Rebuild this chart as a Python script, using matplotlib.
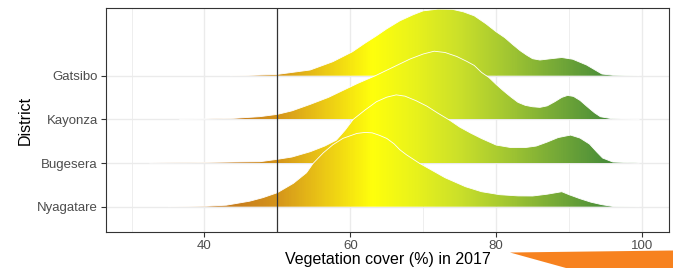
import numpy as np
import matplotlib.pyplot as plt
from matplotlib.colors import LinearSegmentedColormap, Normalize
from matplotlib.patches import Polygon

plt.rcParams['font.family'] = ['Liberation Sans', 'DejaVu Sans']

# districts, bottom to top
districts = ['Nyagatare', 'Bugesera', 'Kayonza', 'Gatsibo']

# density curves (relative heights)
gatsibo_x = [43.5, 46, 50, 54.5, 57.6, 60.3, 62, 63.6, 65, 66.8, 68.6, 70, 72, 74, 75.5, 77,
             78.6, 80, 81.2, 82.3, 83.3, 84.2, 85, 86, 87.5, 89, 90.5, 92.4, 93.5, 94.5, 96, 99.6]
gatsibo_h = [0, 0.3, 1.3, 5.7, 14, 24, 32.5, 40, 47, 55, 61, 65, 66.7, 66.5, 64, 60,
             52, 44, 38, 31, 25, 20.5, 17, 15.7, 17, 18.2, 16.5, 10.7, 6, 1.7, 0.5, 0]

kayonza_x = [36.6, 40, 44, 47.6, 50, 52, 54.5, 57, 59, 61, 63.4, 65.5, 68.2, 70, 71.5, 73, 74.6,
             76, 77, 78, 79, 80, 81, 82, 83, 84, 85, 86, 87, 88, 89, 89.8, 90.6, 91.5, 92.5,
             93.5, 94.3, 96, 99.6]
kayonza_h = [0, 0.3, 1, 2.7, 5, 8.5, 15, 22, 29, 36, 43.6, 51, 60.5, 65.5, 68.3, 67, 63,
             58, 54, 47, 42, 35, 28.5, 22.5, 17, 14, 12.6, 12, 13.5, 17.5, 22, 24, 23, 19, 12.6,
             6.5, 2.6, 0.5, 0]

bugesera_x = [32.5, 38, 44, 47.6, 50, 52, 54.5, 56.5, 58.1, 59.3, 60.4, 62, 63.6, 65, 66.3, 67.5,
              69, 70.5, 72, 73.6, 75, 76.5, 78, 80, 82, 84, 85.5, 87, 88.5, 90.2, 91.5, 92.8,
              93.8, 94.6, 96, 99.6]
bugesera_h = [0, 0.3, 1, 1.3, 3.7, 6, 11.3, 17, 23, 33, 43.7, 53, 61.5, 66, 68.3, 67,
              62.5, 57, 50, 43, 36, 30, 24.5, 18, 15.5, 15.5, 17, 21, 25.5, 28, 25, 19,
              11, 5, 1, 0]

nyagatare_x = [35, 40.3, 43, 46.2, 48, 50, 52.2, 54, 54.9, 56.3, 57.6, 59, 60.9, 62, 63, 64, 65,
               66, 66.8, 67.7, 69.5, 71.3, 73, 75.8, 78, 80.5, 83, 85, 87, 89, 90, 91.5, 93,
               94.5, 96, 99.6]
nyagatare_h = [0, 0.5, 1.5, 5.5, 9, 14, 23.4, 34, 43.4, 54, 62, 68.5, 73.4, 74.4, 74, 71.5, 68.4,
               63, 57, 52, 43.4, 36, 29, 20, 15, 12, 10.8, 10.7, 12.5, 15, 12, 8, 4.5,
               2, 0.3, 0]

curves = {
    'Gatsibo': (gatsibo_x, gatsibo_h),
    'Kayonza': (kayonza_x, kayonza_h),
    'Bugesera': (bugesera_x, bugesera_h),
    'Nyagatare': (nyagatare_x, nyagatare_h),
}

threshold = 50
ridge_scale = 1.70   # tallest ridge in units of row spacing

# fill gradient along x
stops = [(26.5, '#b8681e'), (45, '#c9801e'), (50, '#d5951b'), (56, '#eac516'),
         (63, '#ffff0c'), (69, '#e8f21c'), (75, '#cbe02a'), (81, '#a6c931'),
         (88, '#78ab37'), (95, '#4b8e39'), (103.7, '#43883a')]
xmin, xmax = 26.5, 103.7
cmap = LinearSegmentedColormap.from_list(
    'veg', [((v - xmin) / (xmax - xmin), c) for v, c in stops])
norm = Normalize(xmin, xmax)

fig = plt.figure(figsize=(6.73, 2.68), dpi=100)
ax = fig.add_axes([106 / 673, 36 / 268, 563 / 673, 224 / 268])

hmax = max(max(h) for _, h in curves.values())
grad = np.linspace(xmin, xmax, 600).reshape(1, -1)

# draw from top row down so lower ridges overlap upper ones
for i, name in enumerate(reversed(districts)):
    base = districts.index(name) + 1
    x, h = curves[name]
    x = np.array(x)
    y = base + np.array(h) / hmax * ridge_scale
    z = 2 + i
    verts = np.column_stack([np.r_[x, x[::-1]], np.r_[y, np.full(len(x), base)]])
    poly = Polygon(verts, closed=True, facecolor='none', edgecolor='none')
    ax.add_patch(poly)
    im = ax.imshow(grad, extent=[xmin, xmax, base, base + ridge_scale + 0.1],
                   aspect='auto', cmap=cmap, norm=norm, origin='lower',
                   interpolation='bilinear', zorder=z)
    im.set_clip_path(poly)
    ax.plot(x, y, color='white', lw=0.6, zorder=z + 0.5)

ax.axvline(threshold, color='#333333', lw=0.9, zorder=20)

ax.set_xlim(xmin, xmax)
ax.set_ylim(0.42, 5.55)
ax.set_xticks([40, 60, 80, 100])
ax.set_xticks([30, 50, 70, 90], minor=True)
ax.set_yticks(range(1, len(districts) + 1))
ax.set_yticklabels(districts)
ax.grid(which='major', color='#ebebeb', lw=1.0, zorder=0)
ax.grid(which='minor', axis='x', color='#ebebeb', lw=0.6, zorder=0)
ax.set_axisbelow(True)

for s in ax.spines.values():
    s.set_color('#333333')
    s.set_linewidth(0.8)
ax.tick_params(which='major', length=3.3, width=0.8, color='#333333',
               labelcolor='#4d4d4d', labelsize=9.5, pad=2.5)
ax.tick_params(which='minor', length=0)

ax.set_xlabel('Vegetation cover (%) in 2017', fontsize=11.5, labelpad=0)
ax.set_ylabel('District', fontsize=11.5, labelpad=3)

# orange wedge in the lower right corner
wedge = Polygon([(510 / 673, 15.5 / 268), (1, 17.5 / 268), (1, 0), (566 / 673, 0)],
                closed=True, transform=fig.transFigure, facecolor='#f7821f',
                edgecolor='none')
fig.patches.append(wedge)

fig.savefig('out.png', dpi=100)
